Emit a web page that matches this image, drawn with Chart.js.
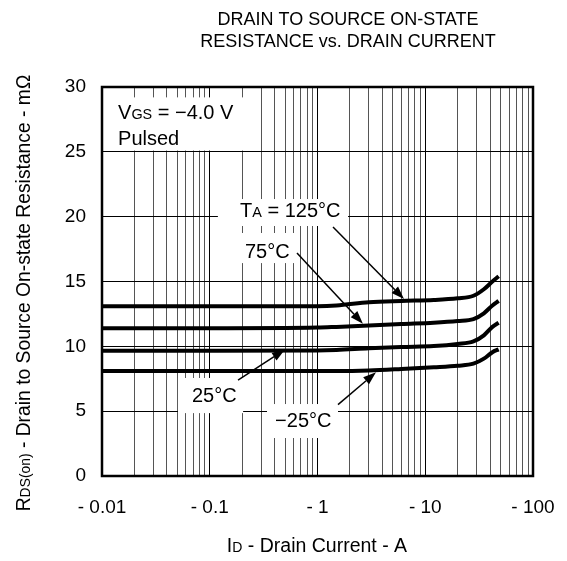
<!DOCTYPE html>
<html>
<head>
<meta charset="utf-8">
<script src="https://cdn.jsdelivr.net/npm/chart.js@4.4.0/dist/chart.umd.min.js"></script>
<style>
  html, body { margin: 0; padding: 0; background: #fff; }
  canvas { display: block; }
</style>
</head>
<body>
<canvas id="rdsChart" width="567" height="561"></canvas>
<script>
// Drain current (A, shown as negative values on the axis) and RDS(on) in mOhm
const drainCurrent = [0.01, 0.1, 1, 1.5, 3, 6, 12, 20, 28, 35, 42, 48];
const rds125 = [13.1, 13.1, 13.1, 13.15, 13.4, 13.5, 13.57, 13.7, 13.9, 14.4, 15.0, 15.4];
const rds75 = [11.4, 11.4, 11.45, 11.5, 11.6, 11.72, 11.82, 11.95, 12.1, 12.55, 13.15, 13.5];
const rds25 = [9.65, 9.65, 9.68, 9.72, 9.85, 9.95, 10.02, 10.18, 10.38, 10.85, 11.5, 11.82];
const rdsMinus25 = [8.1, 8.1, 8.1, 8.1, 8.14, 8.25, 8.38, 8.5, 8.66, 9.05, 9.55, 9.77];

const xDecades = [0.01, 0.1, 1, 10, 100];
const xTickLabels = ['- 0.01', '- 0.1', '- 1', '- 10', '- 100'];
const yTicks = [0, 5, 10, 15, 20, 25, 30];

const FONT = '"Liberation Sans", Arial, sans-serif';
const FS = 18;     // title
const TICK_FS = 19;
const NOTE_FS = 20;

// grid lines for every 1..9 step in each decade
const xGridValues = [];
xDecades.slice(0, -1).forEach(d => {
  for (let m = 1; m <= 9; m++) xGridValues.push(Number((d * m).toPrecision(3)));
});
xGridValues.push(100);

function isDecade(v) {
  const l = Math.log10(v);
  return Math.abs(l - Math.round(l)) < 1e-6;
}

// white label boxes in data units
const labelBoxes = [
  { x0: 0.01, x1: 0.204, y0: 25.1, y1: 29.2 },
  { x0: 0.119, x1: 1.92, y0: 19.28, y1: 21.36 },
  { x0: 0.183, x1: 0.631, y0: 16.42, y1: 18.74 },
  { x0: 0.0507, x1: 0.204, y0: 4.85, y1: 7.56 },
  { x0: 0.34, x1: 1.55, y0: 2.93, y1: 5.55 }
];

const labelTexts = [
  { x: 0.0141, y: 28.07, parts: [['V'], ['GS', 1], [' = \u22124.0 V']] },
  { x: 0.0141, y: 26.06, parts: [['Pulsed']] },
  { x: 0.191, y: 20.5, parts: [['T'], ['A', 1], [' = 125\u00B0C']] },
  { x: 0.212, y: 17.37, parts: [['75\u00B0C']] },
  { x: 0.0684, y: 6.25, parts: [['25\u00B0C']] },
  { x: 0.404, y: 4.32, parts: [['\u221225\u00B0C']] }
];

const arrows = [
  { from: [1.393, 19.2], to: [6.35, 13.65] },
  { from: [0.645, 17.19], to: [2.64, 11.75] },
  { from: [0.183, 7.4], to: [0.499, 9.75] },
  { from: [1.55, 5.5], to: [3.49, 8.0] }
];

function richWidth(ctx, parts, size) {
  let w = 0;
  parts.forEach(p => {
    ctx.font = (p[1] ? size * 0.72 : size) + 'px ' + FONT;
    w += ctx.measureText(p[0]).width;
  });
  return w;
}

function drawRich(ctx, parts, x, cy, size, align) {
  const w = richWidth(ctx, parts, size);
  let cx = align === 'center' ? x - w / 2 : x;
  const base = cy + size * 0.36;
  ctx.textBaseline = 'alphabetic';
  ctx.textAlign = 'left';
  ctx.fillStyle = '#000';
  parts.forEach(p => {
    ctx.font = (p[1] ? size * 0.72 : size) + 'px ' + FONT;
    ctx.fillText(p[0], cx, base);
    cx += ctx.measureText(p[0]).width;
  });
}

const notesPlugin = {
  id: 'notes',
  beforeDatasetsDraw(chart) {
    const ctx = chart.ctx;
    const xs = chart.scales.x, ys = chart.scales.y;
    ctx.save();
    ctx.fillStyle = '#fff';
    labelBoxes.forEach(b => {
      const l = xs.getPixelForValue(b.x0), r = xs.getPixelForValue(b.x1);
      const t = ys.getPixelForValue(b.y1), btm = ys.getPixelForValue(b.y0);
      ctx.fillRect(l, t, r - l, btm - t);
    });
    labelTexts.forEach(t => {
      drawRich(ctx, t.parts, xs.getPixelForValue(t.x), ys.getPixelForValue(t.y), NOTE_FS, 'left');
    });
    ctx.restore();
  },
  afterDatasetsDraw(chart) {
    const ctx = chart.ctx;
    const xs = chart.scales.x, ys = chart.scales.y;
    const a = chart.chartArea;
    ctx.save();
    ctx.strokeStyle = '#000';
    ctx.fillStyle = '#000';
    arrows.forEach(ar => {
      const x1 = xs.getPixelForValue(ar.from[0]), y1 = ys.getPixelForValue(ar.from[1]);
      const x2 = xs.getPixelForValue(ar.to[0]), y2 = ys.getPixelForValue(ar.to[1]);
      const ang = Math.atan2(y2 - y1, x2 - x1);
      const len = 13, hw = 4.5;
      const bx = x2 - len * Math.cos(ang), by = y2 - len * Math.sin(ang);
      ctx.lineWidth = 1.5;
      ctx.beginPath();
      ctx.moveTo(x1, y1);
      ctx.lineTo(bx, by);
      ctx.stroke();
      ctx.beginPath();
      ctx.moveTo(x2, y2);
      ctx.lineTo(bx + hw * Math.sin(ang), by - hw * Math.cos(ang));
      ctx.lineTo(bx - hw * Math.sin(ang), by + hw * Math.cos(ang));
      ctx.closePath();
      ctx.fill();
    });
    // plot frame
    ctx.lineWidth = 2.5;
    ctx.strokeRect(a.left, a.top, a.right - a.left, a.bottom - a.top);
    ctx.restore();
  },
  afterDraw(chart) {
    const ctx = chart.ctx;
    ctx.save();
    drawRich(ctx, [['DRAIN TO SOURCE ON-STATE']], 348, 19, FS, 'center');
    drawRich(ctx, [['RESISTANCE vs. DRAIN CURRENT']], 348, 40.5, FS, 'center');
    drawRich(ctx, [['I'], ['D', 1], [' - Drain Current - A']], 317, 545, 19.5, 'center');
    ctx.translate(23, 293);
    ctx.rotate(-Math.PI / 2);
    drawRich(ctx, [['R'], ['DS(on)', 1], [' - Drain to Source On-state Resistance - m\u03A9']], 0, 0, 19.3, 'center');
    ctx.restore();
  }
};

function series(values) {
  return drainCurrent.map((c, i) => ({ x: c, y: values[i] }));
}

const lineStyle = {
  borderColor: '#000',
  borderWidth: 4,
  pointRadius: 0,
  cubicInterpolationMode: 'monotone',
  fill: false
};

new Chart(document.getElementById('rdsChart'), {
  type: 'line',
  data: {
    datasets: [
      Object.assign({ label: 'TA = 125°C', data: series(rds125) }, lineStyle),
      Object.assign({ label: '75°C', data: series(rds75) }, lineStyle),
      Object.assign({ label: '25°C', data: series(rds25) }, lineStyle),
      Object.assign({ label: '-25°C', data: series(rdsMinus25) }, lineStyle)
    ]
  },
  options: {
    responsive: false,
    animation: false,
    devicePixelRatio: 1,
    layout: { padding: { left: 0, right: 34, top: 87, bottom: 0 } },
    plugins: {
      legend: { display: false },
      title: { display: false },
      tooltip: { enabled: false }
    },
    scales: {
      x: {
        type: 'logarithmic',
        min: 0.01,
        max: 100,
        afterBuildTicks: s => { s.ticks = xGridValues.map(v => ({ value: v, major: isDecade(v) })); },
        afterFit: s => { s.height = 85; s.paddingLeft = 0; s.paddingRight = 0; },
        border: { display: false },
        grid: {
          drawTicks: false,
          color: c => (c.tick && isDecade(c.tick.value)) ? '#000' : '#555',
          lineWidth: 1
        },
        ticks: {
          autoSkip: false,
          maxRotation: 0,
          padding: 20,
          color: '#000',
          font: { family: FONT, size: TICK_FS },
          callback: v => {
            const i = xDecades.findIndex(d => Math.abs(d - v) < d * 1e-6);
            return i >= 0 ? xTickLabels[i] : '';
          }
        }
      },
      y: {
        min: 0,
        max: 30,
        afterBuildTicks: s => { s.ticks = yTicks.map(v => ({ value: v })); },
        afterFit: s => { s.width = 102; s.paddingTop = 0; s.paddingBottom = 0; },
        border: { display: false },
        grid: { drawTicks: false, color: '#000', lineWidth: 1 },
        ticks: {
          padding: 16,
          color: '#000',
          font: { family: FONT, size: TICK_FS }
        }
      }
    }
  },
  plugins: [notesPlugin]
});
</script>
</body>
</html>
